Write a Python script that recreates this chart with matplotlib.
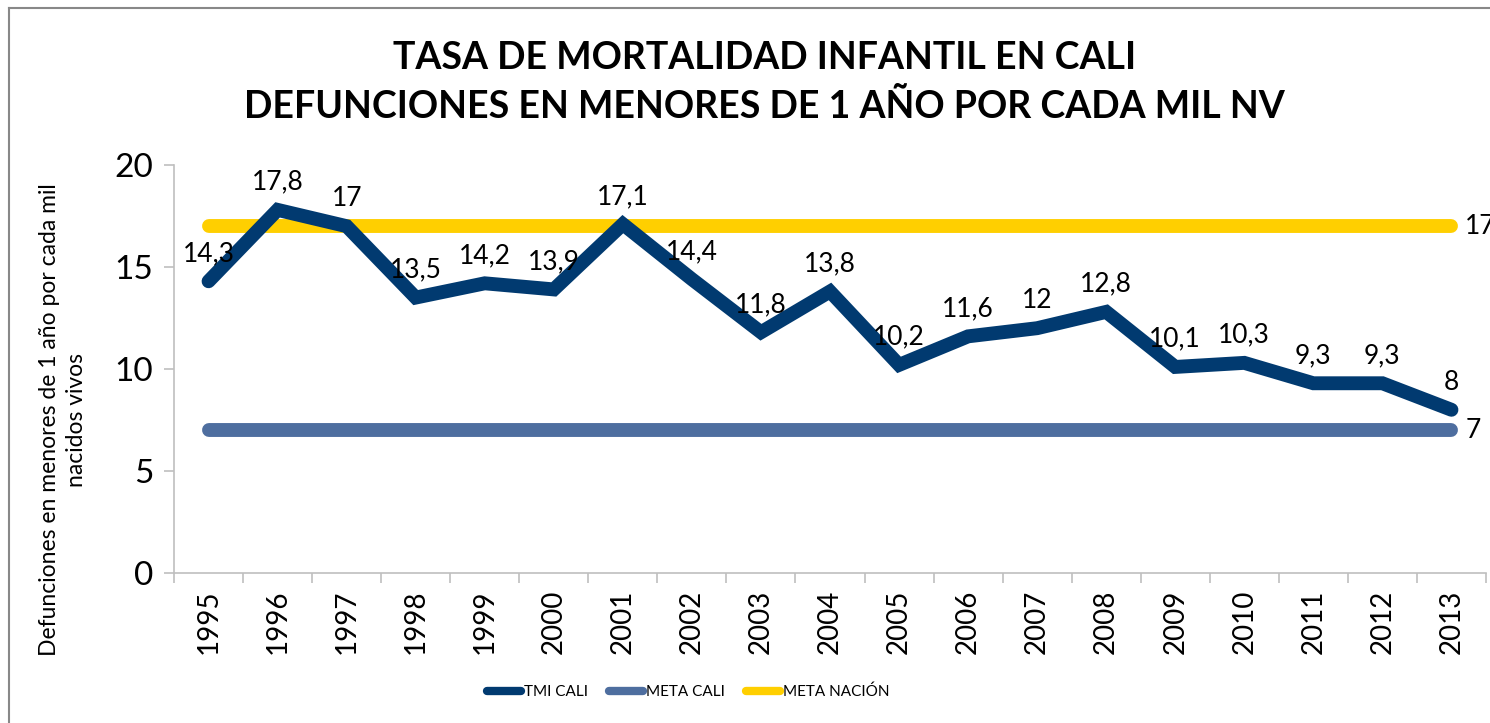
import matplotlib.pyplot as plt
from matplotlib.lines import Line2D

years = ["1995", "1996", "1997", "1998", "1999", "2000", "2001", "2002", "2003", "2004",
         "2005", "2006", "2007", "2008", "2009", "2010", "2011", "2012", "2013"]
tmi_cali = [14.3, 17.8, 17, 13.5, 14.2, 13.9, 17.1, 14.4, 11.8, 13.8,
            10.2, 11.6, 12, 12.8, 10.1, 10.3, 9.3, 9.3, 8]
meta_cali = [7] * len(years)
meta_nacion = [17] * len(years)

plt.rcParams['font.family'] = ['Lato', 'DejaVu Sans']

navy = "#013A70"
steel = "#4E6E9F"
gold = "#FFCF00"
grey = "#BFBFBF"

fig = plt.figure(figsize=(14.9, 7.23), dpi=100)
ax = fig.add_axes([0.1168, 0.2075, 0.8805, 0.5643])

x = range(len(years))
ax.plot(x, meta_cali, color=steel, lw=10, solid_capstyle='round', label="META CALI", zorder=2)
ax.plot(x, meta_nacion, color=gold, lw=10, solid_capstyle='round', label="META NACIÓN", zorder=2)
ax.plot(x, tmi_cali, color=navy, lw=10, solid_capstyle='round', solid_joinstyle='miter',
        label="TMI CALI", zorder=3)

def fmt(v):
    s = f"{v:g}"
    return s.replace(".", ",")

for i, v in enumerate(tmi_cali):
    ax.annotate(fmt(v), (i, v), xytext=(0, 20), textcoords="offset points",
                ha="center", va="center", fontsize=19, zorder=4)

# end labels for the two goal lines (the reference cuts the "17" at the right edge)
ax.annotate(fmt(meta_nacion[-1]), (len(years) - 1, meta_nacion[-1]), xytext=(10, 0),
            textcoords="offset points", ha="left", va="center", fontsize=19,
            annotation_clip=False)
ax.annotate(fmt(meta_cali[-1]), (len(years) - 1, meta_cali[-1]), xytext=(10, 0),
            textcoords="offset points", ha="left", va="center", fontsize=19,
            annotation_clip=False)

ax.set_xlim(-0.5, len(years) - 0.5)
ax.set_ylim(0, 20)
ax.set_yticks([0, 5, 10, 15, 20])
ax.set_xticks(list(x))
ax.set_xticklabels(years, rotation=90, fontsize=20)
ax.set_xticks([i - 0.5 for i in range(len(years) + 1)], minor=True)
ax.tick_params(axis='x', which='major', length=0, pad=12)
ax.tick_params(axis='x', which='minor', length=7, color=grey, width=1.2)
ax.tick_params(axis='y', length=7, color=grey, width=1.2, labelsize=24, pad=8)

for s in ("top", "right"):
    ax.spines[s].set_visible(False)
for s in ("left", "bottom"):
    ax.spines[s].set_color(grey)
    ax.spines[s].set_linewidth(1.2)

ax.set_ylabel("Defunciones en menores de 1 año por cada mil\nnacidos vivos", fontsize=16.5,
              linespacing=1.35)
ax.yaxis.set_label_coords(-0.066, 0.375)

fig.text(0.513, 0.92, "TASA DE MORTALIDAD INFANTIL EN CALI", ha="center", va="center",
         fontsize=27, fontweight="bold")
fig.text(0.513, 0.853, "DEFUNCIONES EN MENORES DE 1 AÑO POR CADA MIL NV", ha="center",
         va="center", fontsize=27, fontweight="bold")

handles, labels = ax.get_legend_handles_labels()
order = [2, 0, 1]
leg = fig.legend([handles[i] for i in order], [labels[i] for i in order],
                 loc="center", bbox_to_anchor=(0.462, 0.043), ncol=3, frameon=False,
                 fontsize=11, handlelength=2.2, handletextpad=0.2, columnspacing=1.4)
for h in leg.get_lines():
    h.set_linewidth(6)

fig.add_artist(Line2D([0.006, 0.006], [0, 0.989], color="#888888", lw=1.5))
fig.add_artist(Line2D([0.006, 1], [0.989, 0.989], color="#888888", lw=1.5))

fig.savefig("out.png", dpi=100)
